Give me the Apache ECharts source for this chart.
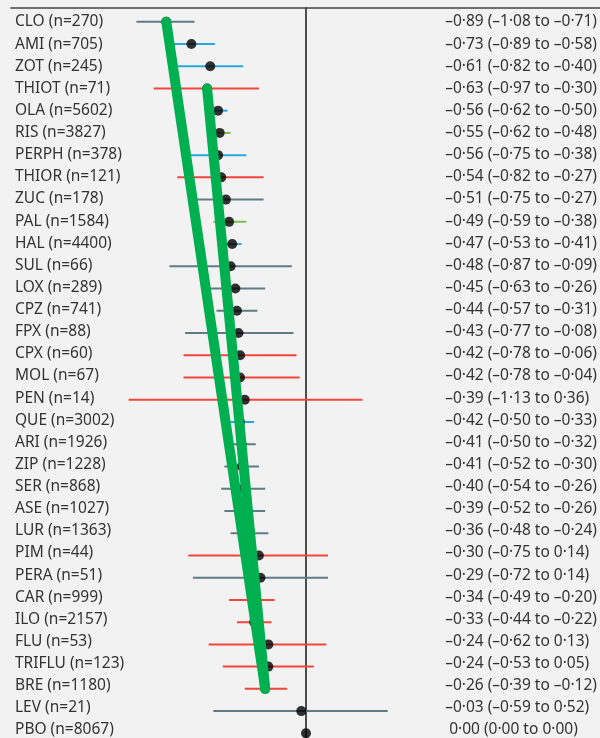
<!DOCTYPE html>
<html>
<head>
<meta charset="utf-8">
<script src="https://cdn.jsdelivr.net/npm/echarts@6/dist/echarts.min.js"></script>
<style>
  html, body { margin: 0; padding: 0; background: #f2f2f2; }
  #chart { width: 600px; height: 738px; }
</style>
</head>
<body>
<div id="chart"></div>
<script>
// Treatments and their sample sizes, top to bottom
const categories = [
  'CLO (n=270)', 'AMI (n=705)', 'ZOT (n=245)', 'THIOT (n=71)', 'OLA (n=5602)',
  'RIS (n=3827)', 'PERPH (n=378)', 'THIOR (n=121)', 'ZUC (n=178)', 'PAL (n=1584)',
  'HAL (n=4400)', 'SUL (n=66)', 'LOX (n=289)', 'CPZ (n=741)', 'FPX (n=88)',
  'CPX (n=60)', 'MOL (n=67)', 'PEN (n=14)', 'QUE (n=3002)', 'ARI (n=1926)',
  'ZIP (n=1228)', 'SER (n=868)', 'ASE (n=1027)', 'LUR (n=1363)', 'PIM (n=44)',
  'PERA (n=51)', 'CAR (n=999)', 'ILO (n=2157)', 'FLU (n=53)', 'TRIFLU (n=123)',
  'BRE (n=1180)', 'LEV (n=21)', 'PBO (n=8067)'
];

// Standardised mean differences with 95% credible intervals
const estimates = [
  -0.89, -0.73, -0.61, -0.63, -0.56, -0.55, -0.56, -0.54, -0.51, -0.49,
  -0.47, -0.48, -0.45, -0.44, -0.43, -0.42, -0.42, -0.39, -0.42, -0.41,
  -0.41, -0.40, -0.39, -0.36, -0.30, -0.29, -0.34, -0.33, -0.24, -0.24,
  -0.26, -0.03, 0.00
];
const lower = [
  -1.08, -0.89, -0.82, -0.97, -0.62, -0.62, -0.75, -0.82, -0.75, -0.59,
  -0.53, -0.87, -0.63, -0.57, -0.77, -0.78, -0.78, -1.13, -0.50, -0.50,
  -0.52, -0.54, -0.52, -0.48, -0.75, -0.72, -0.49, -0.44, -0.62, -0.53,
  -0.39, -0.59, 0.00
];
const upper = [
  -0.71, -0.58, -0.40, -0.30, -0.50, -0.48, -0.38, -0.27, -0.27, -0.38,
  -0.41, -0.09, -0.26, -0.31, -0.08, -0.06, -0.04, 0.36, -0.33, -0.32,
  -0.30, -0.26, -0.26, -0.24, 0.14, 0.14, -0.20, -0.22, 0.13, 0.05,
  -0.12, 0.52, 0.00
];

// Evidence-quality group for each row (colours the interval)
const groups = [
  'grey', 'blue', 'blue', 'red', 'blue', 'green', 'blue', 'red', 'grey', 'green',
  'blue', 'grey', 'grey', 'grey', 'grey', 'red', 'red', 'red', 'blue', 'grey',
  'grey', 'grey', 'grey', 'grey', 'red', 'grey', 'red', 'red', 'red', 'red',
  'red', 'grey', 'none'
];

// Text shown in the right-hand column
const ciLabels = [
  '\u20130\u00b789 (\u20131\u00b708 to \u20130\u00b771)',
  '\u20130\u00b773 (\u20130\u00b789 to \u20130\u00b758)',
  '\u20130\u00b761 (\u20130\u00b782 to \u20130\u00b740)',
  '\u20130\u00b763 (\u20130\u00b797 to \u20130\u00b730)',
  '\u20130\u00b756 (\u20130\u00b762 to \u20130\u00b750)',
  '\u20130\u00b755 (\u20130\u00b762 to \u20130\u00b748)',
  '\u20130\u00b756 (\u20130\u00b775 to \u20130\u00b738)',
  '\u20130\u00b754 (\u20130\u00b782 to \u20130\u00b727)',
  '\u20130\u00b751 (\u20130\u00b775 to \u20130\u00b727)',
  '\u20130\u00b749 (\u20130\u00b759 to \u20130\u00b738)',
  '\u20130\u00b747 (\u20130\u00b753 to \u20130\u00b741)',
  '\u20130\u00b748 (\u20130\u00b787 to \u20130\u00b709)',
  '\u20130\u00b745 (\u20130\u00b763 to \u20130\u00b726)',
  '\u20130\u00b744 (\u20130\u00b757 to \u20130\u00b731)',
  '\u20130\u00b743 (\u20130\u00b777 to \u20130\u00b708)',
  '\u20130\u00b742 (\u20130\u00b778 to \u20130\u00b706)',
  '\u20130\u00b742 (\u20130\u00b778 to \u20130\u00b704)',
  '\u20130\u00b739 (\u20131\u00b713 to 0\u00b736)',
  '\u20130\u00b742 (\u20130\u00b750 to \u20130\u00b733)',
  '\u20130\u00b741 (\u20130\u00b750 to \u20130\u00b732)',
  '\u20130\u00b741 (\u20130\u00b752 to \u20130\u00b730)',
  '\u20130\u00b740 (\u20130\u00b754 to \u20130\u00b726)',
  '\u20130\u00b739 (\u20130\u00b752 to \u20130\u00b726)',
  '\u20130\u00b736 (\u20130\u00b748 to \u20130\u00b724)',
  '\u20130\u00b730 (\u20130\u00b775 to 0\u00b714)',
  '\u20130\u00b729 (\u20130\u00b772 to 0\u00b714)',
  '\u20130\u00b734 (\u20130\u00b749 to \u20130\u00b720)',
  '\u20130\u00b733 (\u20130\u00b744 to \u20130\u00b722)',
  '\u20130\u00b724 (\u20130\u00b762 to 0\u00b713)',
  '\u20130\u00b724 (\u20130\u00b753 to 0\u00b705)',
  '\u20130\u00b726 (\u20130\u00b739 to \u20130\u00b712)',
  '\u20130\u00b703 (\u20130\u00b759 to 0\u00b752)',
  ' 0\u00b700 (0\u00b700 to 0\u00b700)'
];

// Highlighted trends, drawn between the estimates of two treatments
const trendLines = [
  ['CLO', 'BRE'],
  ['THIOT', 'BRE']
];

const groupColours = {
  grey: '#5f7b87',
  blue: '#27a7dc',
  red: '#f2463d',
  green: '#7bbf4e',
  none: 'rgba(0,0,0,0)'
};

const rowIndex = code => categories.findIndex(c => c.split(' ')[0] === code);

const intervalData = categories.map((c, i) => [i, lower[i], upper[i], groups[i]]);
const pointData = categories.map((c, i) => [estimates[i], i]);
const trendSeries = trendLines.map(([a, b]) => {
  const ia = rowIndex(a), ib = rowIndex(b);
  return {
    type: 'line',
    xAxisIndex: 0,
    yAxisIndex: 0,
    data: [[estimates[ia], ia], [estimates[ib], ib]],
    symbol: 'none',
    silent: true,
    lineStyle: { color: '#00b050', width: 10, cap: 'round' },
    z: 10
  };
});

const labelFont = '"Noto Sans", "Open Sans", sans-serif';
const chart = echarts.init(document.getElementById('chart'), null, { renderer: 'canvas' });

chart.setOption({
  backgroundColor: '#f2f2f2',
  animation: false,
  grid: [
    { left: 11, right: 0, top: 8, bottom: 0 },
    { left: 11, right: 0, top: 22, bottom: 4.5 }
  ],
  xAxis: [
    {
      gridIndex: 0, type: 'value', position: 'top',
      min: -1.879, max: 1.8726,
      axisLine: { show: true, onZero: false, lineStyle: { color: '#444', width: 1.6 } },
      axisTick: { show: false }, axisLabel: { show: false }, splitLine: { show: false }
    },
    {
      gridIndex: 1, type: 'value', show: false, min: 0, max: 1
    }
  ],
  yAxis: [
    {
      gridIndex: 0, type: 'value', inverse: true,
      min: -0.616, max: 32.21,
      axisLine: { show: true, onZero: true, lineStyle: { color: '#222', width: 1.6 } },
      axisTick: { show: false }, axisLabel: { show: false }, splitLine: { show: false }
    },
    {
      gridIndex: 1, type: 'category', inverse: true, boundaryGap: false,
      data: categories,
      axisLine: { show: false }, axisTick: { show: false }, splitLine: { show: false },
      axisLabel: {
        align: 'left', margin: -4, interval: 0,
        color: '#333', fontFamily: labelFont, fontSize: 15.5
      }
    },
    {
      gridIndex: 1, type: 'category', inverse: true, boundaryGap: false,
      position: 'right',
      data: ciLabels,
      axisLine: { show: false }, axisTick: { show: false }, splitLine: { show: false },
      axisLabel: {
        align: 'left', margin: -154, interval: 0,
        color: '#333', fontFamily: labelFont, fontSize: 15.5
      }
    }
  ],
  series: [
    {
      type: 'custom',
      xAxisIndex: 0, yAxisIndex: 0,
      data: intervalData,
      encode: { x: [1, 2], y: 0 },
      renderItem: (params, api) => {
        const i = api.value(0);
        const a = api.coord([api.value(1), i]);
        const b = api.coord([api.value(2), i]);
        const g = intervalData[params.dataIndex][3];
        return {
          type: 'line',
          shape: { x1: a[0], y1: a[1], x2: b[0], y2: b[1] },
          style: { stroke: groupColours[g], lineWidth: 2 }
        };
      },
      z: 2
    },
    {
      type: 'scatter',
      xAxisIndex: 0, yAxisIndex: 0,
      data: pointData,
      symbol: 'circle',
      symbolSize: 10,
      itemStyle: { color: '#000' },
      z: 5
    },
    ...trendSeries
  ]
});
</script>
</body>
</html>
